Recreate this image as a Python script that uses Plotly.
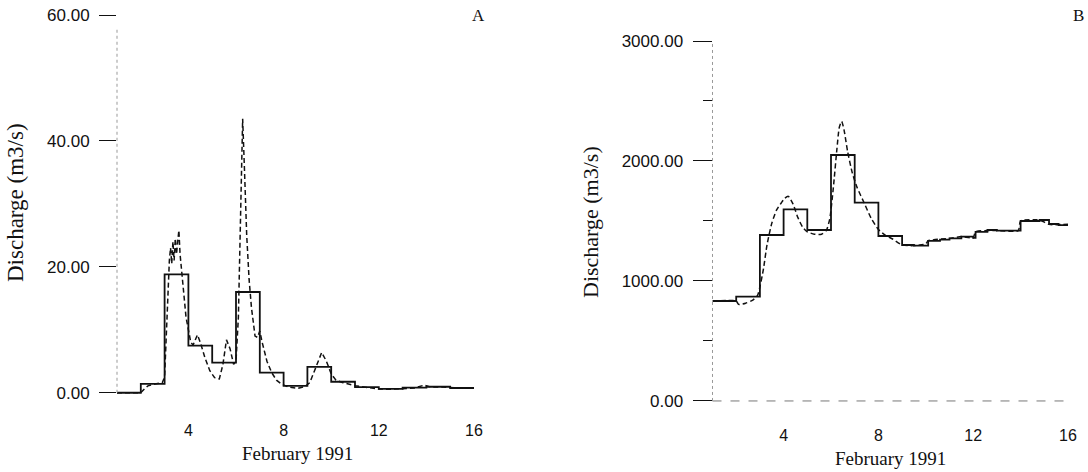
import plotly.graph_objects as go

W, H = 1088, 472

# ---------------- Panel A data ----------------
a_step_days = [1, 2, 3, 4, 5, 6, 7, 8, 9, 10, 11, 12, 13, 14, 15, 16]
a_step_vals = [0, 1.4, 18.8, 7.5, 4.8, 16.0, 3.2, 1.1, 4.1, 1.75, 0.9, 0.6, 0.8, 0.95, 0.75, 0.75]

a_dash_days = [1.0, 2.0, 2.15, 2.3, 2.6, 2.9, 3.0, 3.08, 3.15, 3.2, 3.25, 3.3, 3.35, 3.4, 3.45,
               3.5, 3.55, 3.6, 3.65, 3.72, 3.8, 3.9, 4.0, 4.1, 4.2, 4.3, 4.38, 4.5, 4.7, 4.9,
               5.1, 5.3, 5.45, 5.6, 5.75, 5.9, 6.0, 6.1, 6.2, 6.28, 6.36, 6.45, 6.55, 6.65,
               6.8, 6.9, 7.0, 7.1, 7.3, 7.5, 7.7, 7.9, 8.2, 8.6, 8.9, 9.1, 9.3, 9.6, 9.8,
               10.0, 10.2, 10.5, 11.0, 11.5, 12.0, 12.5, 13.0, 13.5, 13.9, 14.2, 14.7,
               15.2, 15.6, 16.0]
a_dash_vals = [0, 0, 0.6, 1.1, 1.4, 1.6, 2.5, 10, 19, 21, 23, 20.5, 24, 21, 24.5,
               22, 24, 25.8, 22, 19, 16, 12, 10, 8, 7.6, 8.6, 9.2, 8, 5.5, 3.5,
               2.4, 2.2, 4.5, 8.4, 7, 4.5, 5, 12, 30, 43.5, 35, 25, 18, 13.5,
               9, 8.8, 9.8, 8, 5, 3.2, 2, 1.4, 0.9, 0.7, 1.0, 1.6, 3.5, 6.4, 5,
               3, 2.0, 1.6, 1.1, 0.8, 0.6, 0.55, 0.6, 0.75, 1.2, 0.9, 0.9,
               0.75, 0.7, 0.8]

a_yticks = [0, 20, 40, 60]
a_xticks = [4, 8, 12, 16]

# ---------------- Panel B data ----------------
b_step_days = [1, 2, 3, 4, 5, 6, 7, 8, 9, 9.5, 10.1, 10.6, 11.0, 11.5, 12.0, 12.1, 12.6,
               13.0, 13.5, 14.0, 14.5, 14.8, 15.2, 15.6, 16]
b_step_vals = [833, 870, 1383, 1597, 1425, 2050, 1653, 1375, 1300, 1295, 1335, 1345, 1355,
               1370, 1360, 1410, 1425, 1420, 1420, 1500, 1500, 1508, 1475, 1465, 1472]

b_dash_days = [1.0, 2.0, 2.1, 2.4, 2.7, 2.9, 3.0, 3.15, 3.3, 3.5, 3.7, 3.9, 4.05, 4.2, 4.4,
               4.6, 4.8, 5.0, 5.3, 5.6, 5.8, 5.95, 6.1, 6.25, 6.35, 6.45, 6.55, 6.7, 6.9,
               7.1, 7.4, 7.7, 8.0, 8.3, 8.6, 9.0, 9.5, 10.0, 10.1, 11.0, 11.5, 12.0, 12.1,
               13.0, 13.9, 14.0, 14.8, 15.2, 16.0]
b_dash_vals = [833, 833, 805, 815, 840, 880, 950, 1100, 1300, 1480, 1590, 1650, 1690, 1705,
               1640, 1530, 1450, 1410, 1390, 1390, 1420, 1520, 1780, 2100, 2280, 2330, 2260,
               2080, 1900, 1780, 1650, 1520, 1430, 1380, 1350, 1300, 1295, 1310, 1335, 1355,
               1370, 1360, 1410, 1420, 1420, 1500, 1508, 1472, 1472]

b_yticks = [0, 1000, 2000, 3000]
b_xticks = [4, 8, 12, 16]

x_title = "February 1991"
y_title = "Discharge (m3/s)"

# ---------------- figure ----------------
INK = "#111111"
SANS = "Liberation Sans, Arial, sans-serif"
SERIF = "Liberation Serif, Times New Roman, serif"


def px_x(p):
    return p / W


def px_y(p):
    return 1 - p / H


fig = go.Figure()

fig.add_trace(go.Scatter(x=a_step_days, y=a_step_vals, mode="lines", line_shape="hv",
                         line=dict(color=INK, width=1.8), xaxis="x", yaxis="y",
                         showlegend=False))
fig.add_trace(go.Scatter(x=a_dash_days, y=a_dash_vals, mode="lines",
                         line=dict(color=INK, width=1.5, dash="5px,3px"), xaxis="x", yaxis="y",
                         showlegend=False))
fig.add_trace(go.Scatter(x=b_step_days, y=b_step_vals, mode="lines", line_shape="hv",
                         line=dict(color=INK, width=1.8), xaxis="x2", yaxis="y2",
                         showlegend=False))
fig.add_trace(go.Scatter(x=b_dash_days, y=b_dash_vals, mode="lines", line_shape="spline",
                         line=dict(color=INK, width=1.5, dash="5px,3px", smoothing=0.6),
                         xaxis="x2", yaxis="y2", showlegend=False))

tickfont = dict(family=SANS, size=17, color=INK)

fig.update_layout(
    width=W, height=H,
    margin=dict(l=0, r=0, t=0, b=0, autoexpand=False),
    paper_bgcolor="white", plot_bgcolor="white",
    xaxis=dict(domain=[px_x(117), px_x(474)], range=[1, 16], tickvals=a_xticks,
               showgrid=False, zeroline=False, showline=False, ticks="", automargin=False,
               tickfont=dict(family=SANS, size=16, color=INK), anchor="y"),
    yaxis=dict(domain=[px_y(419), px_y(15)], range=[-4.17, 60], tickvals=a_yticks,
               tickformat=".2f", showgrid=False, zeroline=False, showline=False,
               ticks="outside", ticklen=17, tickwidth=1, tickcolor=INK, automargin=False,
               ticklabelstandoff=6, tickfont=tickfont, anchor="x"),
    xaxis2=dict(domain=[px_x(712.5), px_x(1068)], range=[1, 16], tickvals=b_xticks,
                showgrid=False, zeroline=False, showline=False, ticks="", automargin=False,
                tickfont=dict(family=SANS, size=16, color=INK), anchor="y2"),
    yaxis2=dict(domain=[px_y(424), px_y(41)], range=[-192, 3000], tickvals=b_yticks,
                tickformat=".2f", showgrid=False, zeroline=False, showline=False,
                ticks="outside", ticklen=19, tickwidth=1, tickcolor=INK, automargin=False,
                ticklabelstandoff=6, tickfont=tickfont, anchor="x2",
                minor=dict(dtick=500, tick0=0, ticks="outside", ticklen=9,
                           tickcolor=INK, tickwidth=1)),
)

# faint dotted axis lines
fig.add_shape(type="line", xref="x domain", yref="y", x0=0, x1=0, y0=0, y1=58,
              line=dict(color="#999999", width=1, dash="dot"))
fig.add_shape(type="line", xref="x2 domain", yref="y2", x0=0, x1=0, y0=0, y1=3000,
              line=dict(color="#999999", width=1, dash="dot"))
fig.add_shape(type="line", xref="x2 domain", yref="y2", x0=0, x1=1, y0=0, y1=0,
              line=dict(color="#777777", width=1, dash="dash"))

ann = [
    dict(x=px_x(297), y=px_y(453), text=x_title, font=dict(family=SERIF, size=19, color=INK)),
    dict(x=px_x(890), y=px_y(458), text=x_title, font=dict(family=SERIF, size=19, color=INK)),
    dict(x=px_x(15), y=px_y(203), text=y_title, textangle=-90,
         font=dict(family=SERIF, size=23, color=INK)),
    dict(x=px_x(590), y=px_y(222), text=y_title, textangle=-90,
         font=dict(family=SERIF, size=22, color=INK)),
    dict(x=px_x(478), y=px_y(15), text="A", font=dict(family=SERIF, size=17, color=INK)),
    dict(x=px_x(1078), y=px_y(15), text="B", font=dict(family=SERIF, size=17, color=INK)),
]
for a in ann:
    fig.add_annotation(xref="paper", yref="paper", xanchor="center", yanchor="middle",
                       showarrow=False, **a)

fig.write_html("out.html")
